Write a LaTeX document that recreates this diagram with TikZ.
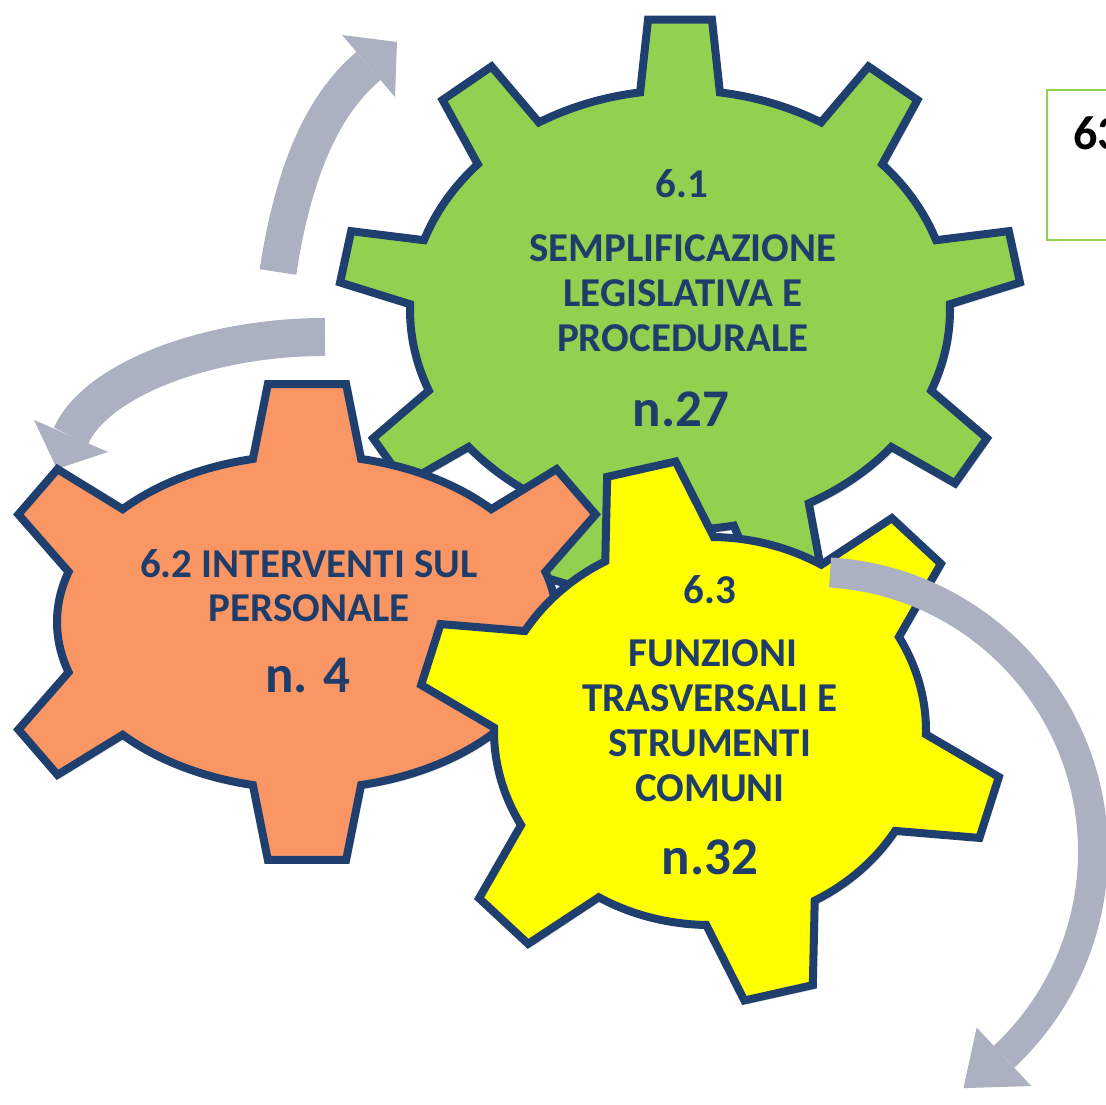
\documentclass[tikz,border=0pt]{standalone}
\usepackage{fontspec}
\setmainfont{Carlito}
\usetikzlibrary{shadows}
\definecolor{navy}{HTML}{1F3F6E}
\definecolor{txtblue}{HTML}{1F3D6B}
\definecolor{ggreen}{HTML}{92D050}
\definecolor{gorange}{HTML}{FA9664}
\definecolor{gyellow}{HTML}{FFFF00}
\definecolor{agray}{HTML}{ABB1C0}

% gear parameters: cx cy a b toothheight base-halfangle tip-halfangle firstangle n
\newcommand{\setgear}[9]{%
  \def\gcx{#1}\def\gcy{#2}\def\ga{#3}\def\gb{#4}\def\gt{#5}%
  \def\gdb{#6}\def\gdt{#7}\def\gfirst{#8}\def\gn{#9}%
  \pgfmathsetmacro{\gstep}{360/\gn}}

\newcommand{\mkgear}[1]{%
  \foreach \k in {1,...,\gn}{%
    \pgfmathsetmacro{\gPh}{\gfirst+(\k-1)*\gstep}%
    \pgfmathsetmacro{\gNx}{cos(\gPh)*\gb/100}%
    \pgfmathsetmacro{\gNy}{sin(\gPh)*\ga/100}%
    \pgfmathsetmacro{\gNn}{veclen(\gNx,\gNy)}%
    \pgfmathsetmacro{\gUx}{\gt*\gNx/\gNn}%
    \pgfmathsetmacro{\gUy}{\gt*\gNy/\gNn}%
    \coordinate (#1-b1-\k) at ({\gcx+\ga*cos(\gPh-\gdb)},{\gcy+\gb*sin(\gPh-\gdb)});
    \coordinate (#1-b2-\k) at ({\gcx+\ga*cos(\gPh+\gdb)},{\gcy+\gb*sin(\gPh+\gdb)});
    \coordinate (#1-t1-\k) at ({\gcx+\ga*cos(\gPh-\gdt)+\gUx},{\gcy+\gb*sin(\gPh-\gdt)+\gUy});
    \coordinate (#1-t2-\k) at ({\gcx+\ga*cos(\gPh+\gdt)+\gUx},{\gcy+\gb*sin(\gPh+\gdt)+\gUy});
  }}

\newcommand{\drawgear}[2]{%
  \path[gearline, fill=#2] (#1-b1-1)
    \foreach \k [evaluate=\k as \sA using \gfirst+(\k-1)*\gstep+\gdb,
                 evaluate=\k as \eA using \gfirst+\k*\gstep-\gdb] in {1,...,\gn}
    { -- (#1-t1-\k) -- (#1-t2-\k) -- (#1-b2-\k)
      arc[start angle=\sA, end angle=\eA, x radius=\ga pt, y radius=\gb pt] }
    -- cycle;}

\begin{document}
\begin{tikzpicture}[x=1pt,y=1pt,
  gearline/.style={draw=navy, line width=8pt, line join=miter,
    drop shadow={opacity=0.22, shadow xshift=3pt, shadow yshift=-4pt}},
  bandA/.style={draw=agray, line width=37pt},
  bandB/.style={draw=agray, line width=38pt},
  bandC/.style={draw=agray, line width=30pt},
  lbl/.style={font=\fontsize{41}{45}\selectfont\bfseries, text=txtblue, inner sep=0pt, anchor=base},
  cnt/.style={font=\fontsize{53}{58}\selectfont\bfseries, text=txtblue, inner sep=0pt, anchor=base}]
\useasboundingbox (0,0) rectangle (1106,1105);
\clip (0,0) rectangle (1106,1105);
\fill[white] (0,0) rectangle (1106,1105);

% ---- arrow A (top-left, pointing up-right)
\coordinate (aA-tail) at (278,833);
\coordinate (aA-end) at (368.5,1039);
\coordinate (aA-h1) at (342,1070);
\coordinate (aA-h2) at (395,1008);
\coordinate (aA-tip) at (397,1063);
\draw[bandA] (aA-tail) .. controls (293,932) and (322,1000) .. (aA-end);
\fill[agray] (aA-h1) -- (aA-tip) -- (aA-h2) -- cycle;

% ---- arrow B (left, pointing down-left)
\coordinate (aB-tail) at (325,768);
\coordinate (aB-end) at (71,669);
\coordinate (aB-h1) at (34,685);
\coordinate (aB-h2) at (108,653);
\coordinate (aB-tip) at (57,636);
\draw[bandB] (aB-tail) .. controls (205,768) and (95,724) .. (aB-end);
\fill[agray] (aB-h1) -- (aB-tip) -- (aB-h2) -- cycle;

% ---- gears
\setgear{680}{795}{270}{220}{72}{8.5}{6.8}{90}{9}
\mkgear{G}
\drawgear{G}{ggreen}

\setgear{307}{483}{250}{167}{73}{12.5}{9}{90}{6}
\mkgear{O}
\drawgear{O}{gorange}

\setgear{710}{374}{216}{194}{78}{15}{9.4}{104}{6}
\mkgear{Y}
\drawgear{Y}{gyellow}

% ---- arrow C (right, around the yellow gear)
\coordinate (aC-o) at (813,253);
\draw[bandC] ([shift={(86.5:280)}]aC-o) arc[start angle=86.5, end angle=-47, radius=280pt];
\fill[agray] ([shift={(-47:240)}]aC-o) -- ([shift={(-57.5:280)}]aC-o) -- ([shift={(-47:320)}]aC-o) -- cycle;

% ---- box at top right
\draw[ggreen, line width=2.5pt] (1047,1015) rectangle (1140,865);
\node[anchor=base west, font=\fontsize{48}{54}\selectfont\bfseries, inner sep=0pt] (box63) at (1073,955) {63};

% ---- texts
\node[lbl] (g1) at (682,907) {6.1};
\node[lbl] (g2) at (683,843) {SEMPLIFICAZIONE};
\node[lbl] (g3) at (683,798) {LEGISLATIVA E};
\node[lbl] (g4) at (683,753) {PROCEDURALE};
\node[cnt] (g5) at (681,678) {n.27};

\node[lbl] (o1) at (309,527) {6.2 INTERVENTI SUL};
\node[lbl] (o2) at (309,483) {PERSONALE};
\node[cnt] (o3) at (308,412) {n. 4};

\node[lbl] (y1) at (710,501) {6.3};
\node[lbl] (y2) at (713,438) {FUNZIONI};
\node[lbl] (y3) at (710,393) {TRASVERSALI E};
\node[lbl] (y4) at (710,348) {STRUMENTI};
\node[lbl] (y5) at (710,303) {COMUNI};
\node[cnt] (y6) at (710,230) {n.32};
\end{tikzpicture}
\end{document}
